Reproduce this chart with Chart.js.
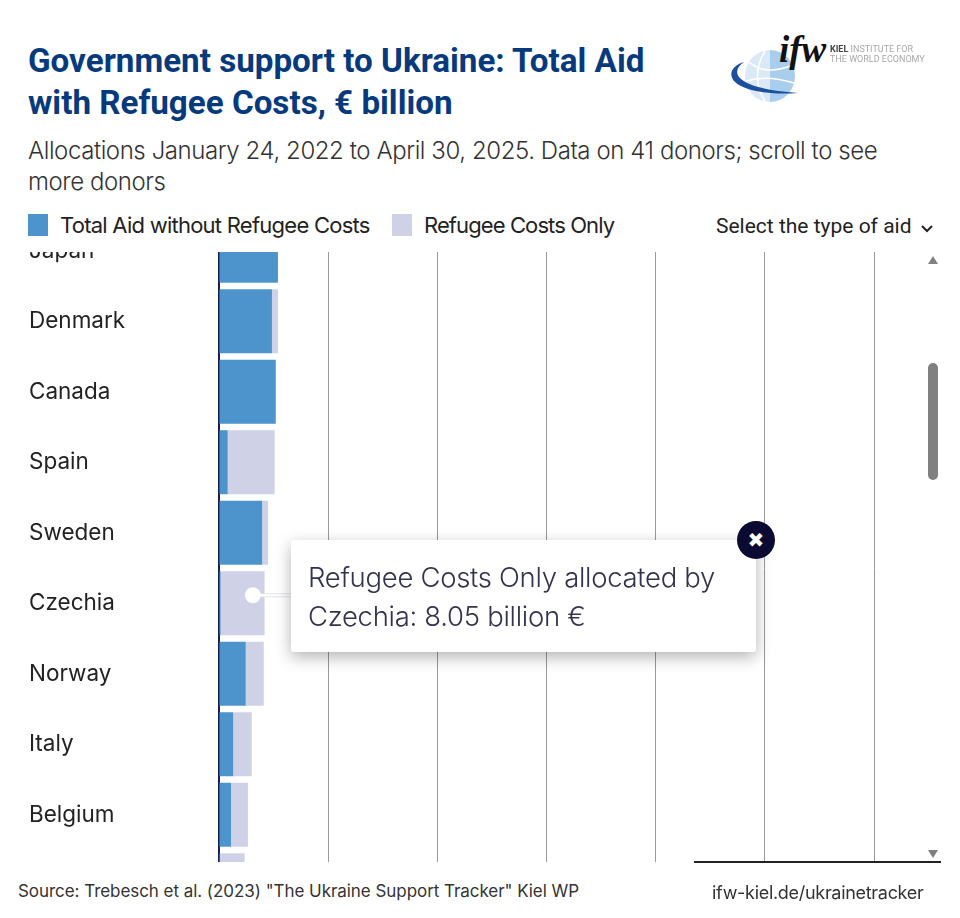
<!DOCTYPE html>
<html>
<head>
<meta charset="utf-8">
<script src="https://cdn.jsdelivr.net/npm/chart.js@4"></script>
<style>
html, body { margin: 0; padding: 0; background: #fff; }
body { position: relative; width: 960px; height: 918px; overflow: hidden; font-family: Inter, sans-serif; }
.abs { position: absolute; white-space: nowrap; }
#title { left: 28px; top: 40px; font: 700 33.2px/42px Roboto, sans-serif; color: #063a7d; }
#sub { left: 28px; top: 135px; font: 300 24px/31px Inter, sans-serif; color: #333; letter-spacing: -0.42px; }
.swatch { width: 20px; height: 22px; top: 214px; }
.leg { top: 212px; font: 400 22px/26px Inter, sans-serif; color: #222; letter-spacing: -0.75px; }
#select { left: 716px; top: 214px; font: 400 21px/24px Roboto, sans-serif; color: #222; }
#plotWrap { left: 0; top: 252px; width: 960px; height: 610px; overflow: hidden; }
#chart { position: absolute; left: 0; top: -53px; }
#baseline { left: 694px; top: 861px; width: 247px; height: 2px; background: #222; }
#thumb { left: 928px; top: 363px; width: 10px; height: 117px; border-radius: 5px; background: #808080; }
#up, #down { left: 928px; width: 0; height: 0; border-left: 5px solid transparent; border-right: 5px solid transparent; }
#up { top: 256px; border-bottom: 8px solid #808080; }
#down { top: 850px; border-top: 8px solid #808080; }
#tip { left: 291px; top: 540px; width: 465px; height: 112px; background: #fff; border-radius: 3px; box-shadow: 0 5px 16px rgba(0,0,0,.3); }
#tipText { left: 17px; top: 18px; font: 300 27.5px/39px Inter, sans-serif; color: #33334d; letter-spacing: -0.3px; }
#close { left: 737px; top: 521px; width: 38px; height: 38px; border-radius: 50%; background: #0a0a33; color: #fff; font: 700 20px/38px "DejaVu Sans", sans-serif; text-align: center; }
#source { left: 18px; top: 880px; font: 400 17px/22px Inter, sans-serif; color: #333; letter-spacing: -0.05px; }
#link { left: 712px; top: 882px; font: 400 18px/22px Inter, sans-serif; color: #333; letter-spacing: -0.3px; }
</style>
</head>
<body>
<div id="title" class="abs">Government support to Ukraine: Total Aid<br>with Refugee Costs, € billion</div>
<svg class="abs" style="left:725px;top:35px" width="210" height="75" viewBox="0 0 210 75">
  <defs><filter id="soft"><feGaussianBlur stdDeviation="0.5"/></filter></defs>
  <g filter="url(#soft)">
    <path d="M45 15 A25 26 0 0 0 45 67 Z" fill="#dbe9f6"/>
    <path d="M45 15 A25 26 0 0 1 45 67 Z" fill="#a9cdec"/>
    <path d="M24 27 C34 36 48 38 68 30 M21 46 C34 42 50 42 69 48 M40 16 C30 32 30 52 40 66" stroke="#fff" stroke-width="1.5" fill="none"/>
    <path d="M19 27 C6 31 3 40 10 47 C20 56 44 60 73 58 C48 56 22 52 14 42 C10 36 13 31 19 27 Z" fill="#1b4f9c"/>
    <text x="105" y="17" font-family="Roboto, sans-serif" font-size="9" fill="#a8a8a8"><tspan font-weight="700" fill="#444">KIEL</tspan> INSTITUTE FOR</text>
    <text x="105" y="27" font-family="Roboto, sans-serif" font-size="9" fill="#a8a8a8">THE WORLD ECONOMY</text>
  </g>
  <text x="54" y="27" font-family="'Liberation Serif', serif" font-style="italic" font-weight="700" font-size="37" fill="#111">ifw</text>
</svg>
<div id="sub" class="abs">Allocations January 24, 2022 to April 30, 2025. Data on 41 donors; scroll to see<br>more donors</div>
<div id="sw1" class="abs swatch" style="left:28px"></div>
<div id="leg1" class="abs leg" style="left:60px"></div>
<div id="sw2" class="abs swatch" style="left:392px"></div>
<div id="leg2" class="abs leg" style="left:424px;letter-spacing:-0.9px"></div>
<div id="select" class="abs">Select the type of aid
  <svg width="12" height="8" viewBox="0 0 12 8" style="margin-left:4px"><path d="M1 1 L6 6 L11 1" stroke="#222" stroke-width="2" fill="none"/></svg>
</div>
<div id="plotWrap" class="abs"><canvas id="chart" width="960" height="738"></canvas></div>
<div id="baseline" class="abs"></div>
<div id="thumb" class="abs"></div>
<div id="up" class="abs"></div>
<div id="down" class="abs"></div>
<div id="tip" class="abs"><div id="tipText" class="abs">Refugee Costs Only allocated by<br>Czechia: 8.05 billion €</div></div>
<div id="close" class="abs">✖</div>
<div id="source" class="abs">Source: Trebesch et al. (2023) "The Ukraine Support Tracker" Kiel WP</div>
<div id="link" class="abs">ifw-kiel.de/ukrainetracker</div>

<script>
const donors = ['Japan', 'Denmark', 'Canada', 'Spain', 'Sweden', 'Czechia', 'Norway', 'Italy', 'Belgium', 'Austria'];
const aidWithoutRefugee = [10.8, 9.7, 10.4, 1.6, 7.9, 0.3, 4.9, 2.6, 2.2, 0.2];
const refugeeOnly = [0, 1.1, 0, 8.6, 1.1, 8.05, 3.3, 3.4, 3.1, 4.5];
const xTicksMax = 120;
const seriesNames = ['Total Aid without Refugee Costs', 'Refugee Costs Only'];
const seriesColors = ['#4c94cb', '#cfd2e6'];

document.getElementById('sw1').style.background = seriesColors[0];
document.getElementById('sw2').style.background = seriesColors[1];
document.getElementById('leg1').textContent = seriesNames[0];
document.getElementById('leg2').textContent = seriesNames[1];

// hovered point of the callout, sits on the Czechia bar
const hoverDonor = 'Czechia';
const hoverValue = 6.2;

const calloutDot = {
    id: 'calloutDot',
    afterDraw(chart) {
        const ctx = chart.ctx;
        const x = chart.scales.x.getPixelForValue(hoverValue);
        const y = chart.scales.y.getPixelForValue(donors.indexOf(hoverDonor)) - 8;
        ctx.save();
        ctx.strokeStyle = '#e4e4ea';
        ctx.lineWidth = 4;
        ctx.beginPath();
        ctx.moveTo(x, y);
        ctx.lineTo(x + 40, y);
        ctx.stroke();
        ctx.strokeStyle = '#fff';
        ctx.lineWidth = 2;
        ctx.stroke();
        ctx.fillStyle = '#fff';
        ctx.beginPath();
        ctx.arc(x, y, 8, 0, Math.PI * 2);
        ctx.fill();
        ctx.restore();
    }
};

new Chart(document.getElementById('chart').getContext('2d'), {
    type: 'bar',
    data: {
        labels: donors,
        datasets: [
            { label: seriesNames[0], data: aidWithoutRefugee, backgroundColor: seriesColors[0] },
            { label: seriesNames[1], data: refugeeOnly, backgroundColor: seriesColors[1] }
        ]
    },
    options: {
        indexAxis: 'y',
        responsive: false,
        animation: false,
        devicePixelRatio: 1,
        barPercentage: 0.906,
        categoryPercentage: 1,
        layout: { padding: { left: 29, right: 86, top: 0, bottom: 0 } },
        plugins: { legend: { display: false }, tooltip: { enabled: false } },
        scales: {
            x: {
                stacked: true,
                min: 0,
                max: xTicksMax,
                ticks: { display: false, stepSize: 20 },
                border: { display: false },
                grid: { color: '#9a9a9a', lineWidth: 1, drawTicks: false }
            },
            y: {
                stacked: true,
                afterFit(scale) { scale.width = 190; },
                ticks: { crossAlign: 'far', color: '#222', font: { family: 'Inter', size: 22.5, weight: '400' } },
                border: { color: '#14204d', width: 2 },
                grid: { display: false }
            }
        }
    },
    plugins: [calloutDot]
});
</script>
</body>
</html>
